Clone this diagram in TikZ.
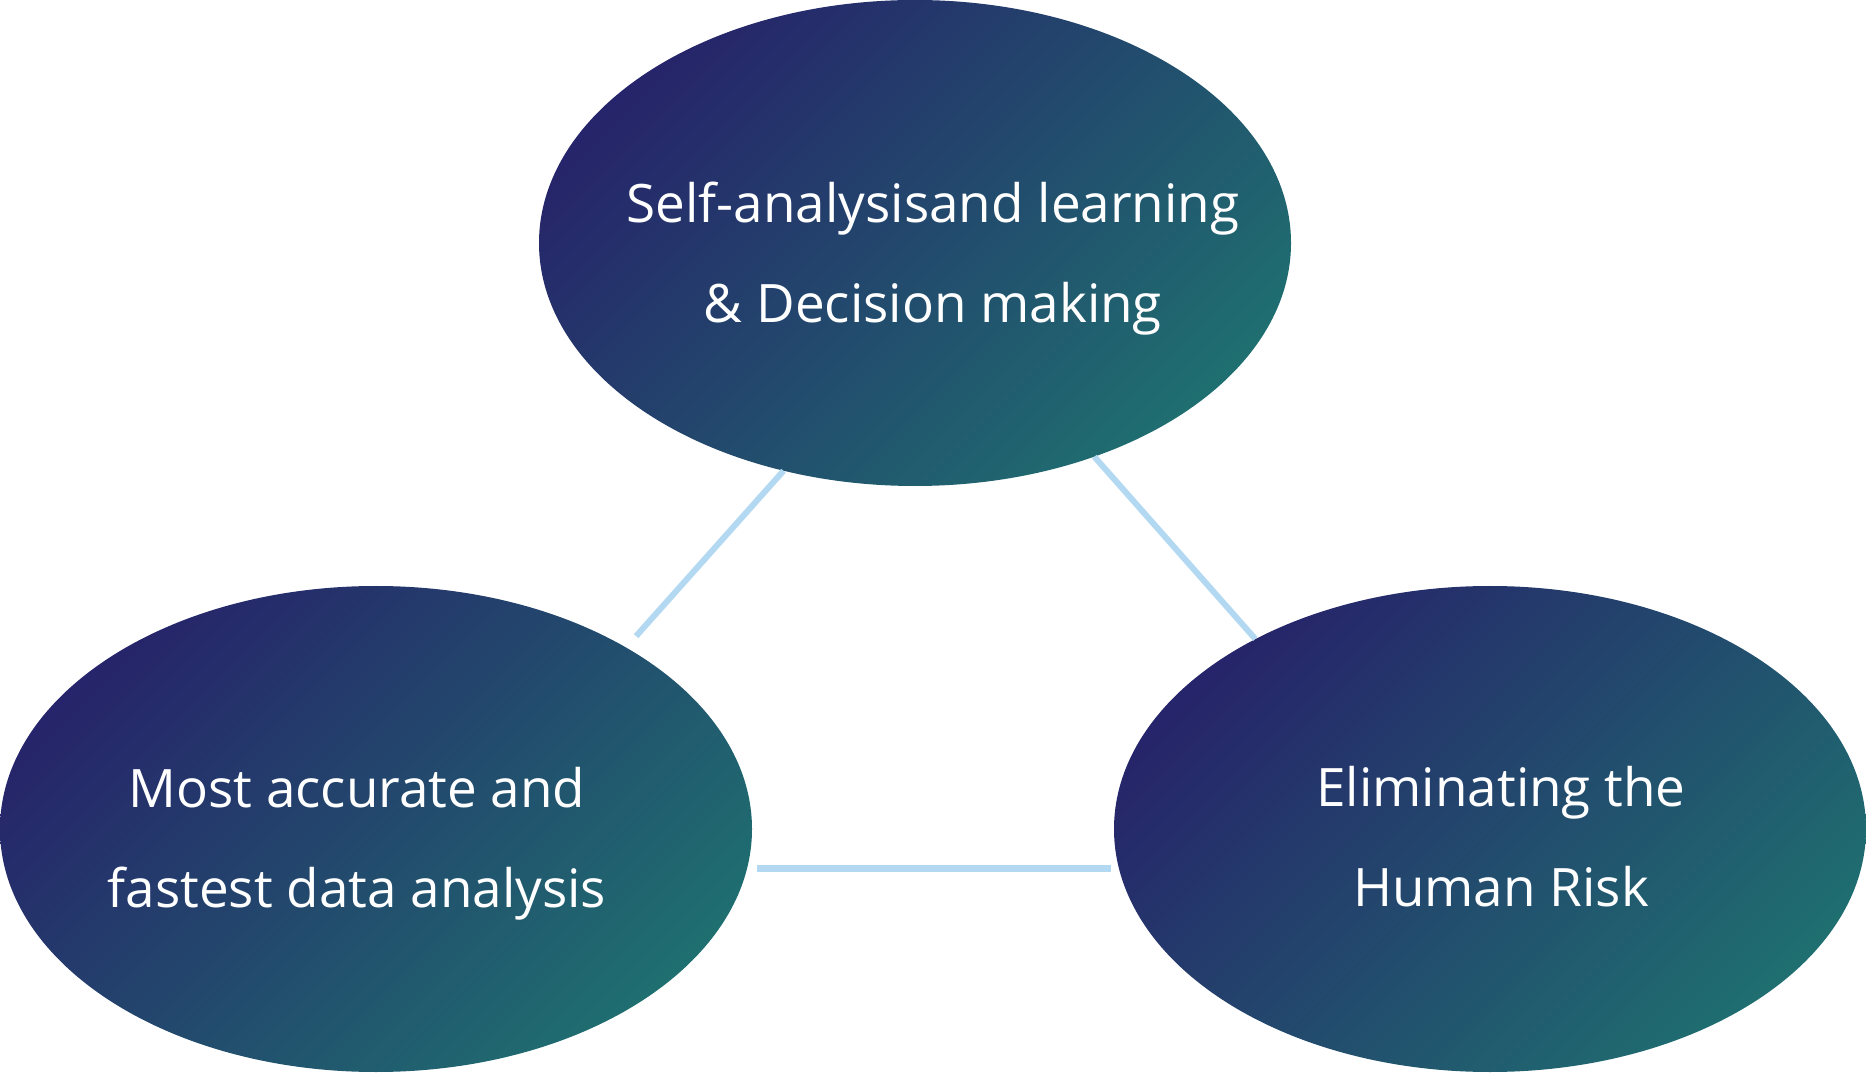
\documentclass[tikz,border=0pt]{standalone}
\usepackage{fontspec}
\setmainfont{Open Sans}
\usetikzlibrary{shapes.geometric}
\definecolor{ovaldark}{RGB}{38,36,106}
\definecolor{ovalteal}{RGB}{31,110,112}
\definecolor{linkblue}{RGB}{179,217,242}
\begin{document}
\begin{tikzpicture}[x=1pt,y=1pt,
  oval/.style={ellipse,inner sep=0pt,minimum width=752pt,minimum height=486pt,
    top color=ovaldark,bottom color=ovalteal,shading angle=45},
  ovaltext/.style={text=white,align=center,inner sep=0pt,
    font=\fontsize{53}{100}\selectfont},
  link/.style={draw=linkblue,line width=6pt}]
\path[use as bounding box] (0,0) rectangle (1866,1072);
% the three ovals
\node[oval] (top) at (915,829) {};
\node[oval] (left) at (376,243) {};
\node[oval] (right) at (1490,243) {};
% their texts
\node[ovaltext] (toptext) at ([xshift=18pt,yshift=-16pt]top.center)
  {Self-analysisand learning\\\& Decision making};
\node[ovaltext] (lefttext) at ([xshift=-19pt,yshift=-15pt]left.center)
  {Most accurate and\\fastest data analysis};
\node[ovaltext] (righttext) at ([xshift=11pt,yshift=-8pt]right.center)
  {Eliminating the\\Human Risk};
% links between the ovals
\draw[link,shorten <=15pt] (left.36) -- (top.240);
\draw[link] (top.310) -- (right.141);
\draw[link,line width=7pt,shorten <=10pt,shorten >=8pt] (left.-6.1) -- (right.186.1);
\end{tikzpicture}
\end{document}
